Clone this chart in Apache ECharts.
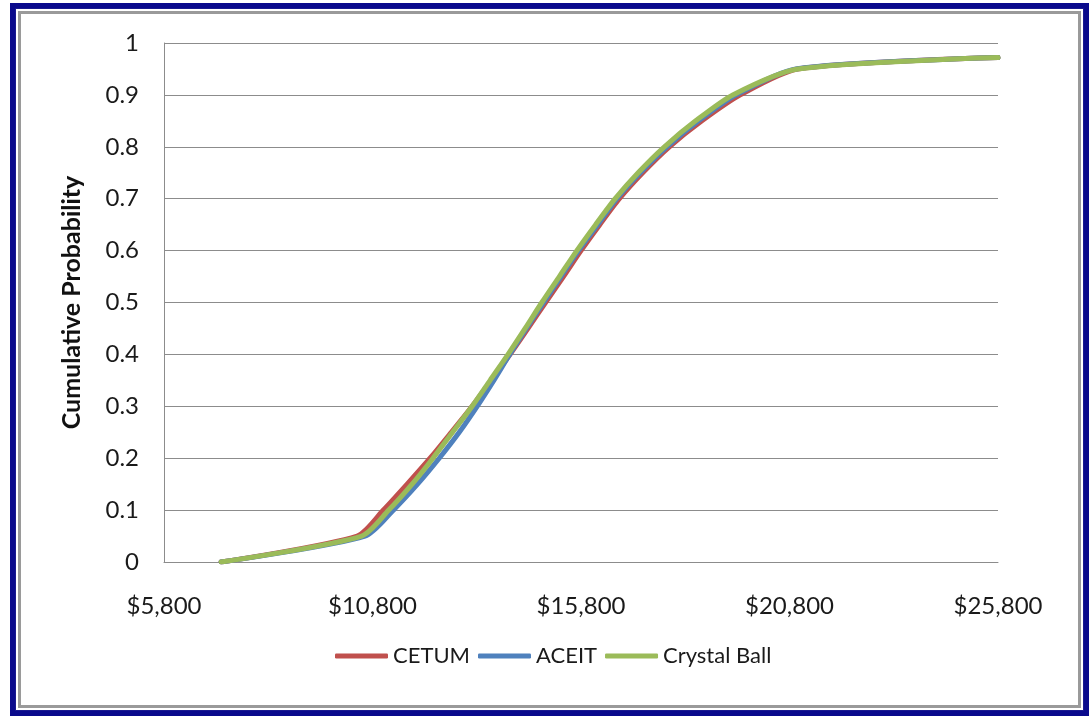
<!DOCTYPE html>
<html>
<head>
<meta charset="utf-8">
<script src="https://cdn.jsdelivr.net/npm/echarts@6/dist/echarts.min.js"></script>
<style>
html,body{margin:0;padding:0;width:1089px;height:716px;overflow:hidden;background:#fff;}
#f1{position:absolute;left:10px;top:3px;width:1079px;height:713px;box-sizing:border-box;border:5px solid #0a0a8c;}
#f3{position:absolute;left:0;top:0;right:0;bottom:0;box-sizing:border-box;border:1px solid #1a1a90;}
#f4{position:absolute;left:2px;top:2px;right:2px;bottom:2px;box-sizing:border-box;border:3px solid #9a9a9a;}
#chart{position:absolute;left:0;top:0;width:1089px;height:716px;}
</style>
</head>
<body>
<div id="f1"><div id="f3"><div id="f4"></div></div></div>
<div id="chart"></div>
<script>
const seriesNames = ['CETUM', 'ACEIT', 'Crystal Ball'];
const probLevels = [0, 0.05, 0.10, 0.15, 0.20, 0.25, 0.30, 0.35, 0.40, 0.45, 0.50, 0.55, 0.60, 0.65, 0.70, 0.75, 0.80, 0.85, 0.90, 0.95, 0.972];
const cetumCost = [7170, 10430, 11060, 11630, 12180, 12690, 13190, 13650, 14100, 14530, 14950, 15380, 15800, 16250, 16720, 17280, 17920, 18700, 19620, 21000, 25800];
const aceitCost = [7170, 10620, 11300, 11880, 12400, 12880, 13310, 13710, 14090, 14490, 14900, 15320, 15740, 16200, 16660, 17220, 17860, 18620, 19520, 20950, 25800];
const crystalCost = [7170, 10540, 11190, 11750, 12250, 12720, 13190, 13620, 14050, 14460, 14860, 15280, 15700, 16150, 16620, 17170, 17800, 18550, 19440, 21000, 25800];
const xTicks = [5800, 10800, 15800, 20800, 25800];
const colors = ['#C0504D', '#4F81BD', '#9BBB59'];

const FONT = 'Lato';
function pairs(costs){ return costs.map((c,i)=>[c, probLevels[i]]); }
const allCosts = [cetumCost, aceitCost, crystalCost];

const chart = echarts.init(document.getElementById('chart'), null, {renderer:'canvas'});
chart.setOption({
  backgroundColor: 'transparent',
  animation: false,
  grid: {left:164, right:91, top:43, bottom:154, outerBoundsMode:'none', containLabel:false},
  legend: {
    bottom: 44, left: 330,
    data: seriesNames,
    icon: 'roundRect', itemWidth: 53, itemHeight: 5, itemGap: 8,
    textStyle: {fontFamily: FONT, fontSize: 22, color: '#1a1a1a'}
  },
  xAxis: {
    type: 'value', min: 5800, max: 25800,
    axisLine: {show: true, lineStyle: {color: '#8c8c8c', width: 1}},
    axisTick: {show: false},
    splitLine: {show: false},
    axisLabel: {
      customValues: xTicks,
      margin: 32,
      fontFamily: FONT, fontSize: 24, color: '#1a1a1a',
      formatter: v => '$' + v.toLocaleString('en-US')
    }
  },
  yAxis: {
    type: 'value', min: 0, max: 1, interval: 0.1,
    name: 'Cumulative Probability',
    nameLocation: 'middle', nameGap: 80, nameRotate: 90,
    nameTextStyle: {fontFamily: FONT, fontSize: 25, fontWeight: 'bold', color: '#111'},
    axisLine: {show: true, lineStyle: {color: '#8c8c8c', width: 1}},
    axisTick: {show: false},
    splitLine: {show: true, lineStyle: {color: '#8c8c8c', width: 1}},
    axisLabel: {margin: 25, fontFamily: FONT, fontSize: 24, color: '#1a1a1a',
      formatter: v => String(Math.round(v*10)/10)}
  },
  series: seriesNames.map((n,i)=>({
    name: n, type: 'line', smooth: 0.25, symbol: 'none',
    data: pairs(allCosts[i]),
    lineStyle: {color: colors[i], width: 5, cap: 'round', join: 'round'},
    itemStyle: {color: colors[i]}
  }))
});
</script>
</body>
</html>
